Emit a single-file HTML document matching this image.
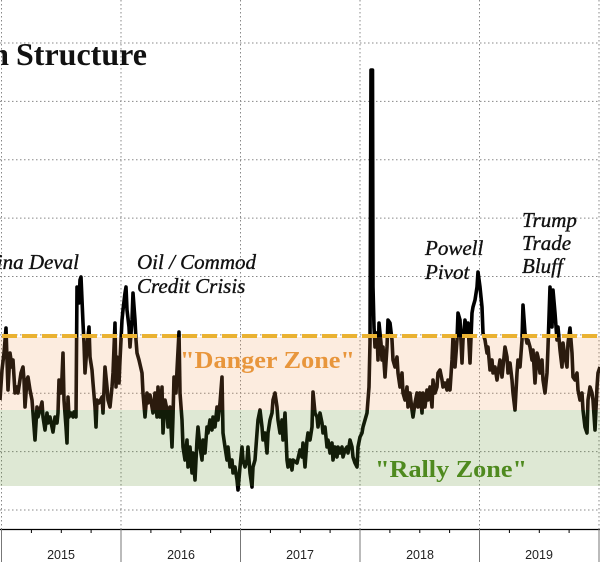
<!DOCTYPE html>
<html><head><meta charset="utf-8"><style>
html,body{margin:0;padding:0;background:#fff;}
svg{display:block;}
</style></head><body>
<svg width="600" height="562" viewBox="0 0 600 562" xmlns="http://www.w3.org/2000/svg">
<rect x="0" y="0" width="600" height="562" fill="#fff"/>
<!-- gridlines -->
<g stroke="#888" stroke-width="1" stroke-dasharray="1.5,2.5" fill="none">
<line x1="0" y1="43" x2="600" y2="43"/>
<line x1="0" y1="101.4" x2="600" y2="101.4"/>
<line x1="0" y1="159.8" x2="600" y2="159.8"/>
<line x1="0" y1="218.1" x2="600" y2="218.1"/>
<line x1="0" y1="276.5" x2="600" y2="276.5"/>
<line x1="0" y1="334.9" x2="600" y2="334.9"/>
<line x1="0" y1="393.3" x2="600" y2="393.3"/>
<line x1="0" y1="451.6" x2="600" y2="451.6"/>
<line x1="0" y1="510" x2="600" y2="510"/>
<line x1="1.5" y1="0" x2="1.5" y2="529"/>
<line x1="121" y1="0" x2="121" y2="529"/>
<line x1="240.5" y1="0" x2="240.5" y2="529"/>
<line x1="360" y1="0" x2="360" y2="529"/>
<line x1="479.5" y1="0" x2="479.5" y2="529"/>
<line x1="599" y1="0" x2="599" y2="529"/>
</g>
<!-- series -->
<polyline fill="none" stroke="#000" stroke-width="3.6" stroke-linejoin="round" points="0,400 2,370 4,353 6,328 7,360 8,390 10,353 12,367 13,360 15,393 17,387 18,393 21,373 23,367 24,380 25,407 27,380 28,377 30,390 32,400 33,413 35,440 37,407 38,417 40,410 42,402 43,417 45,430 47,413 48,423 50,417 52,427 53,432 55,417 57,423 58,413 59,380 61,393 62,377 63,353 64,400 66,427 67,443 68,397 69,417 71,413 73,417 74,412 76,417 77,287 79,303 80,280 81,277 83,323 84,343 85,373 87,347 89,327 90,357 92,370 93,383 95,407 96,427 97,400 99,403 102,397 103,413 105,367 107,387 108,400 110,407 112,387 113,373 115,323 116,387 117,357 119,383 120,360 122,320 123,310 125,293 126,287 127,310 129,327 130,347 132,320 133,293 135,320 136,340 137,353 139,360 142,373 143,393 145,417 147,393 148,403 150,395 153,413 155,393 157,417 158,387 160,417 162,387 163,433 165,400 167,410 168,427 170,407 172,447 173,417 174,377 176,393 177,370 179,332 180,393 182,420 183,447 185,460 187,440 188,467 190,447 192,473 193,453 195,480 197,440 198,427 200,447 202,460 203,440 205,453 207,427 208,433 210,420 212,430 213,417 215,427 217,407 218,420 220,403 222,377 223,433 225,447 227,460 228,447 230,467 232,460 233,473 235,467 237,480 238,490 240,467 242,447 243,460 245,467 247,460 248,447 250,473 252,487 253,467 255,460 257,433 258,420 260,410 262,427 263,440 265,433 267,453 268,433 270,420 272,413 273,400 275,393 277,407 278,420 280,433 282,420 283,440 285,413 287,460 288,467 290,460 292,470 293,460 297,463 300,450 302,457 303,443 305,467 307,440 308,433 310,440 312,427 313,392 315,413 317,417 318,427 320,413 322,423 323,433 325,427 327,447 328,440 330,453 332,443 333,460 335,447 337,457 338,447 340,453 342,447 343,457 345,450 347,447 348,453 350,440 352,447 353,457 355,463 357,467 358,447 360,437 362,433 363,427 365,420 367,413 368,400 369,387 370,343 371,70 372.5,70 373,287 374,327 375,347 377,333 378,360 379,323 381,343 382,360 383,347 385,377 387,347 388,320 390,323 392,340 393,360 395,367 397,357 398,373 400,387 402,373 403,393 405,400 407,387 408,407 410,393 412,410 413,417 415,403 417,393 418,407 420,393 422,413 423,393 425,407 427,390 428,400 430,387 432,407 433,380 435,393 437,387 438,373 440,370 442,380 443,387 445,383 447,390 448,380 450,390 452,360 453,337 455,367 457,340 458,313 460,320 462,363 463,340 465,320 467,333 468,323 470,363 472,313 473,307 475,300 477,287 478,272 480,287 482,307 483,333 485,340 487,353 488,347 490,370 492,360 493,373 495,367 497,380 498,373 500,360 502,377 503,367 505,347 507,357 508,373 510,363 512,380 513,393 515,410 517,373 518,360 520,367 522,340 523,305 525,333 527,343 528,340 530,347 532,360 533,350 535,383 537,353 538,357 540,373 542,360 543,380 545,393 547,373 548,347 550,287 552,327 553,290 555,313 557,340 558,327 560,350 562,367 563,343 565,357 567,367 568,343 570,328 572,353 573,377 575,380 577,373 578,390 580,400 582,393 583,410 585,427 587,433 588,400 590,387 592,393 593,400 595,430 597,387 598,373 600,367"/>
<!-- zones (overlay) -->
<rect x="0" y="337" width="600" height="73" fill="rgb(240,150,80)" fill-opacity="0.18"/>
<rect x="0" y="410" width="600" height="76" fill="rgb(90,140,40)" fill-opacity="0.2"/>
<!-- danger threshold -->
<line x1="2" y1="336" x2="600" y2="336" stroke="#eab232" stroke-width="4" stroke-dasharray="15,5"/>
<!-- axis -->
<line x1="0" y1="529.5" x2="600" y2="529.5" stroke="#000" stroke-width="1.3"/>
<g stroke="#000" stroke-width="1">
<line x1="31.4" y1="529" x2="31.4" y2="533"/>
<line x1="61.3" y1="529" x2="61.3" y2="533"/>
<line x1="91.1" y1="529" x2="91.1" y2="533"/>
<line x1="150.9" y1="529" x2="150.9" y2="533"/>
<line x1="180.8" y1="529" x2="180.8" y2="533"/>
<line x1="210.6" y1="529" x2="210.6" y2="533"/>
<line x1="270.4" y1="529" x2="270.4" y2="533"/>
<line x1="300.3" y1="529" x2="300.3" y2="533"/>
<line x1="330.1" y1="529" x2="330.1" y2="533"/>
<line x1="389.9" y1="529" x2="389.9" y2="533"/>
<line x1="419.8" y1="529" x2="419.8" y2="533"/>
<line x1="449.6" y1="529" x2="449.6" y2="533"/>
<line x1="509.4" y1="529" x2="509.4" y2="533"/>
<line x1="539.3" y1="529" x2="539.3" y2="533"/>
<line x1="569.1" y1="529" x2="569.1" y2="533"/>
</g>
<g stroke="#777" stroke-width="1">
<line x1="1.5" y1="529" x2="1.5" y2="562"/>
<line x1="121" y1="529" x2="121" y2="562"/>
<line x1="240.5" y1="529" x2="240.5" y2="562"/>
<line x1="360" y1="529" x2="360" y2="562"/>
<line x1="479.5" y1="529" x2="479.5" y2="562"/>
<line x1="599" y1="529" x2="599" y2="562"/>
</g>
<g font-family="'Liberation Sans', sans-serif" font-size="12.5" fill="#222" text-anchor="middle">
<text x="61" y="559">2015</text>
<text x="181" y="559">2016</text>
<text x="300" y="559">2017</text>
<text x="420" y="559">2018</text>
<text x="539" y="559">2019</text>
</g>
<!-- title -->
<g font-family="'Liberation Serif', serif" font-weight="bold" font-size="32" fill="#111">
<text x="9" y="65" text-anchor="end">m</text>
<text x="16" y="65">Structure</text>
</g>
<!-- annotations -->
<g font-family="'Liberation Serif', serif" font-style="italic" font-size="21" fill="#111" stroke="#111" stroke-width="0.35">
<text x="79" y="269" text-anchor="end">China Deval</text>
<text x="137" y="269">Oil / Commod</text>
<text x="137" y="293">Credit Crisis</text>
<text x="425" y="255">Powell</text>
<text x="425" y="279">Pivot</text>
<text x="522" y="227">Trump</text>
<text x="522" y="250">Trade</text>
<text x="522" y="273">Bluff</text>
</g>
<g font-family="'Liberation Serif', serif" font-weight="bold" font-size="24">
<text x="180" y="368" fill="#e8963c" textLength="175" lengthAdjust="spacingAndGlyphs">"Danger Zone"</text>
<text x="375" y="477" fill="#4f8a1f" textLength="152" lengthAdjust="spacingAndGlyphs">"Rally Zone"</text>
</g>
</svg>
</body></html>
